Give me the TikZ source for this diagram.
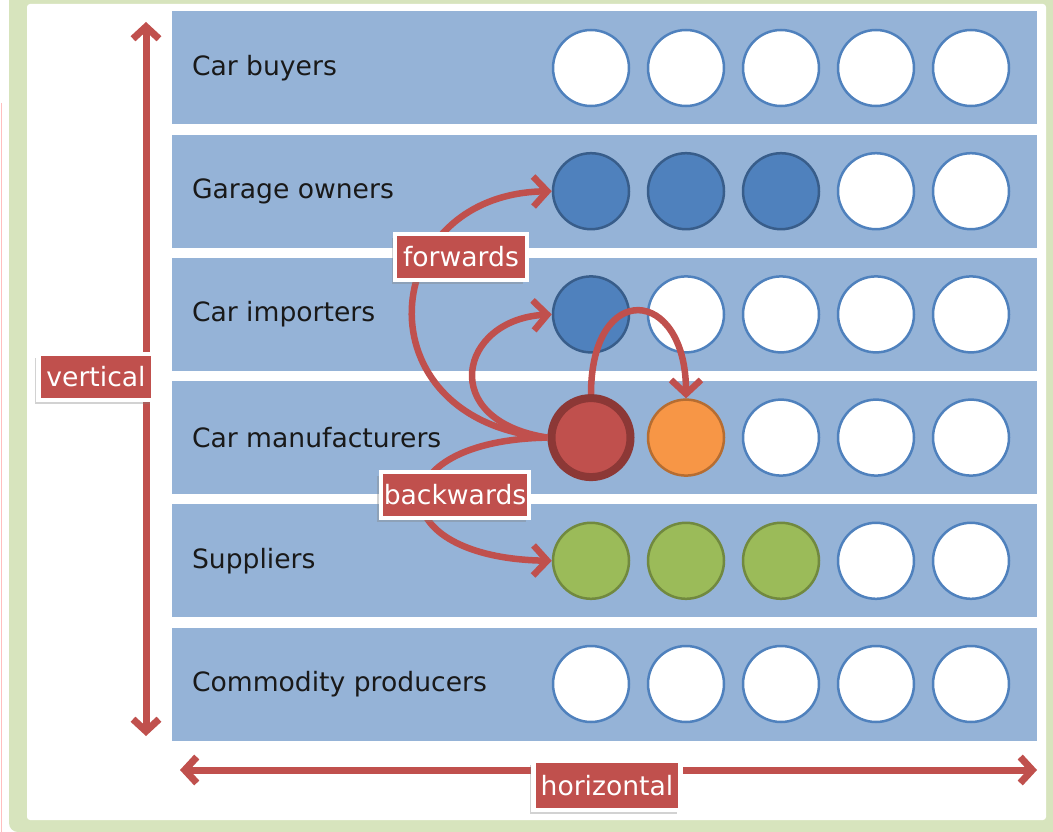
\documentclass[tikz,border=0pt]{standalone}
\usepackage{fontspec}
\setmainfont{DejaVu Sans}
\usepackage{xcolor}
\usetikzlibrary{arrows.meta, positioning, shadows}

\definecolor{framegreen}{HTML}{D7E4BD}
\definecolor{bandblue}{HTML}{95B3D7}
\definecolor{dotblue}{HTML}{4F81BD}
\definecolor{dotblueline}{HTML}{385D8A}
\definecolor{arrowred}{HTML}{C0504D}
\definecolor{redline}{HTML}{8C3836}
\definecolor{dotorange}{HTML}{F79646}
\definecolor{orangeline}{HTML}{B66D31}
\definecolor{dotgreen}{HTML}{9BBB59}
\definecolor{greenline}{HTML}{71893F}

\tikzset{
  band/.style={rectangle, fill=bandblue, minimum width=865pt, minimum height=113pt, inner sep=0pt},
  rowlabel/.style={anchor=west, inner sep=0pt, text=black!90, font=\fontsize{26.6}{30}\selectfont},
  emptydot/.style={circle, minimum size=76pt, inner sep=0pt, fill=white, draw=dotblue, line width=2.5pt},
  bluedot/.style={emptydot, fill=dotblue, draw=dotblueline},
  greendot/.style={emptydot, fill=dotgreen, draw=greenline},
  orangedot/.style={emptydot, fill=dotorange, draw=orangeline},
  reddot/.style={emptydot, minimum size=79pt, fill=arrowred, draw=redline, line width=8pt},
  link/.style={draw=arrowred, line width=6.5pt, -{Straight Barb[length=14pt,width=30pt]}},
  axis/.style={draw=arrowred, line width=7pt, {Straight Barb[length=12pt,width=26pt]}-{Straight Barb[length=12pt,width=26pt]}},
  tag/.style={rectangle, fill=arrowred, draw=white, line width=4.5pt, text=white,
    font=\fontsize{26.6}{30}\selectfont, minimum height=46pt, inner xsep=8pt, inner ysep=0pt,
    drop shadow={shadow xshift=-3.5pt, shadow yshift=-3.5pt, opacity=0.35}}
}

\begin{document}
\begin{tikzpicture}[x=1pt, y=-1pt]
        \useasboundingbox (0,0) rectangle (1053,832);

        % Frame
        \fill[white] (0,0) rectangle (1053,832);
        \fill[framegreen, rounded corners=9pt] (9,-20) rectangle (1073,832);
        \fill[white, rounded corners=3pt] (27,4) rectangle (1046,820);
        \draw[red!25, line width=1pt] (1,103) -- (1,832);

        % Rows
        \foreach \name/\y/\txt in {buyers/68/Car buyers, garage/191.2/Garage owners,
            importers/314.4/Car importers, makers/437.6/Car manufacturers,
            suppliers/560.8/Suppliers, producers/684/Commodity producers} {
          \node[band] (\name) at (604.5,\y) {};
          \node[rowlabel, right=20pt of \name.west] (\name-label) {\txt};
        }

        % Empty positions
        \foreach \name/\y/\first in {buyers/68/1, garage/191.2/4, importers/314.4/2,
            makers/437.6/3, suppliers/560.8/4, producers/684/1}
          \foreach \c in {\first,...,5}
            \node[emptydot] (\name\c) at ({591+95*(\c-1)},\y) {};

        % Filled positions
        \node[bluedot] (garage1) at (591,191.2) {};
        \node[bluedot] (garage2) at (686,191.2) {};
        \node[bluedot] (garage3) at (781,191.2) {};
        \node[bluedot] (importers1) at (591,314.4) {};
        \node[reddot] (makers1) at (591,437.6) {};
        \node[orangedot] (makers2) at (686,437.6) {};
        \node[greendot] (suppliers1) at (591,560.8) {};
        \node[greendot] (suppliers2) at (686,560.8) {};
        \node[greendot] (suppliers3) at (781,560.8) {};

        % Integration arrows
        \draw[link] (makers1.west) .. controls +(-190,-17) and +(-175,3) .. (garage1.west);
        \draw[link] (makers1.west) .. controls +(-111,-17) and +(-93,5) .. (importers1.west);
        \draw[link] (makers1.north) .. controls +(0,-115) and +(0,-112) .. (makers2.north);
        \draw[link] (makers1.west) .. controls +(-170,3) and +(-170,-3) .. (suppliers1.west);

        % Axes
        \coordinate (vtop) at (146,22);
        \coordinate (vbottom) at (146,736);
        \coordinate (hleft) at (180,770);
        \coordinate (hright) at (1037,770);
        \draw[axis] (vtop) -- (vbottom);
        \draw[axis] (hleft) -- (hright);

        % Labels
        \node[tag] (forwards) at (461,257) {forwards};
        \node[tag, inner xsep=3pt] (backwards) at (455,495) {backwards};
        \node[tag] (vertical) at (96,377) {vertical};
        \node[tag, minimum height=49pt, inner xsep=7pt] (horizontal) at (607,785.5) {horizontal};
    \end{tikzpicture}
\end{document}
